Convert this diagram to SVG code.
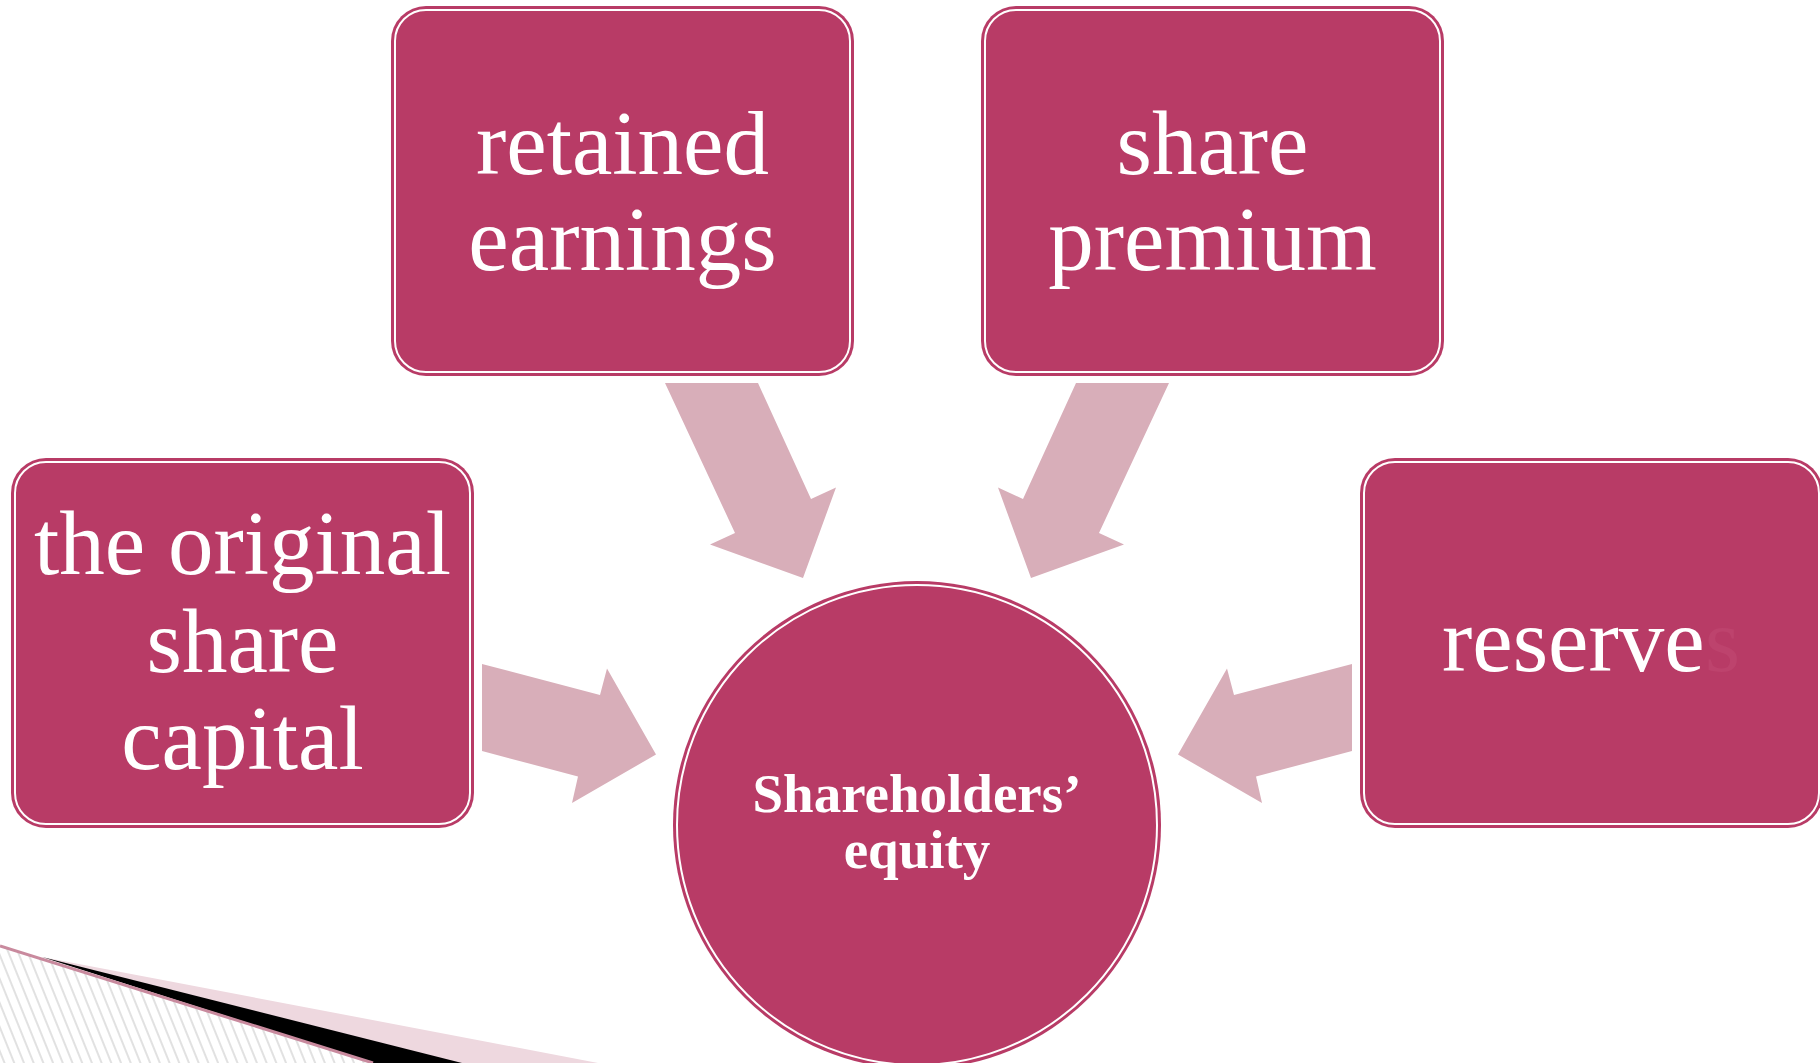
<svg xmlns="http://www.w3.org/2000/svg" width="1820" height="1063" viewBox="0 0 1820 1063">
<style>
.box{fill:#b83b66}
.ring{fill:none;stroke:#ffffff;stroke-width:2}
.arrow{fill:#d8aeb9}
.t{font-family:"Liberation Serif","Times New Roman",serif;fill:#ffffff;text-anchor:middle;font-size:91px}
.tb{font-family:"Liberation Serif","Times New Roman",serif;fill:#ffffff;text-anchor:middle;font-size:55px;font-weight:bold}
</style>
<defs>
<pattern id="hatch" width="9" height="9" patternUnits="userSpaceOnUse" patternTransform="rotate(-22)">
<line x1="2" y1="0" x2="2" y2="9" stroke="#c4c4c4" stroke-width="1"/>
</pattern>
</defs>
<rect width="1820" height="1063" fill="#ffffff"/>
<g id="decoration">
<polygon points="0,946 373,1063 0,1063" fill="url(#hatch)"/>
<polygon points="42,957 598,1063 373,1063" fill="#eed8df"/>
<polygon points="42,957 462,1063 373,1063" fill="#000000"/>
<line x1="0" y1="946" x2="373" y2="1063" stroke="#c98a9e" stroke-width="3"/>
</g>
<g id="connectors">
<polygon class="arrow" points="482,664 600,695 607,668.5 656,754.5 572,803 578,776.5 482,751"/>
<polygon class="arrow" points="665,383 758,383 811,499 836,487.5 803,578 710,544.5 735,533"/>
<polygon class="arrow" points="1169,383 1076,383 1023,499 998,487.5 1031,578 1124,544.5 1099,533"/>
<polygon class="arrow" points="1352,664 1234,695 1227,668.5 1178,754.5 1262,803 1256,776.5 1352,751"/>
</g>
<g id="node-original-share-capital">
<rect class="box" x="11" y="458" width="463" height="370" rx="35"/>
<rect class="ring" x="15" y="462" width="455" height="362" rx="31"/>
<text class="t" x="242.5" y="574">the original</text>
<text class="t" x="242.5" y="672">share</text>
<text class="t" x="242.5" y="769">capital</text>
</g>
<g id="node-retained-earnings">
<rect class="box" x="391" y="6" width="463" height="370" rx="35"/>
<rect class="ring" x="395" y="10" width="455" height="362" rx="31"/>
<text class="t" x="622.5" y="174">retained</text>
<text class="t" x="622.5" y="270">earnings</text>
</g>
<g id="node-share-premium">
<rect class="box" x="981" y="6" width="463" height="370" rx="35"/>
<rect class="ring" x="985" y="10" width="455" height="362" rx="31"/>
<text class="t" x="1212.5" y="174">share</text>
<text class="t" x="1212.5" y="270">premium</text>
</g>
<g id="node-reserves">
<rect class="box" x="1360" y="458" width="463" height="370" rx="35"/>
<rect class="ring" x="1364" y="462" width="455" height="362" rx="31"/>
<text class="t" x="1591" y="671">reserve<tspan fill="#bd436d">s</tspan></text>
</g>
<g id="node-shareholders-equity">
<circle class="box" cx="917" cy="825" r="244"/>
<circle class="ring" cx="917" cy="825" r="240"/>
<text class="tb" x="917" y="812">Shareholders’</text>
<text class="tb" x="917" y="868">equity</text>
</g>
</svg>
